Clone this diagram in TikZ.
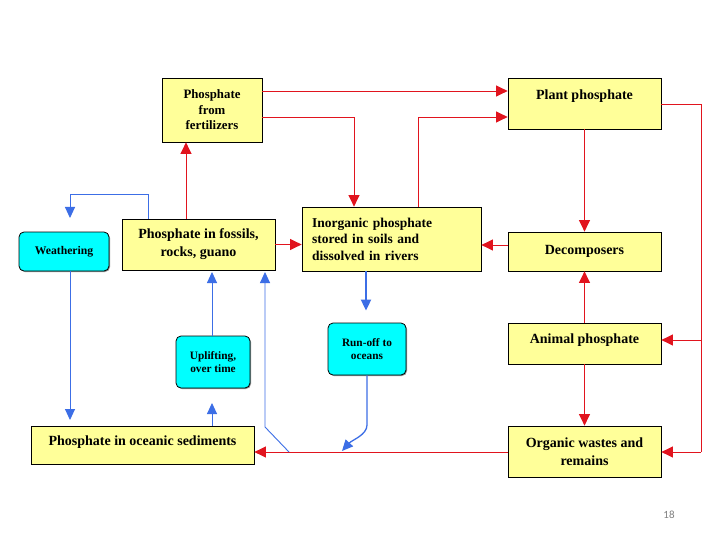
\documentclass[tikz,border=0pt]{standalone}
\usepackage{fontspec}
\setmainfont{Liberation Serif}
\newfontfamily\numfont{Carlito}
\usetikzlibrary{arrows.meta,shadows,calc}
\definecolor{boxyellow}{RGB}{255,255,153}
\definecolor{boxcyan}{RGB}{0,255,255}
\definecolor{linered}{RGB}{225,20,30}
\definecolor{lineblue}{RGB}{60,110,230}
\begin{document}
\begin{tikzpicture}[x=1pt,y=-1pt,
  ybox/.style={draw=black, line width=0.8pt, fill=boxyellow,
    drop shadow={shadow xshift=1.2pt,shadow yshift=-1.2pt,opacity=0.8,fill=black!70},
    font=\bfseries\fontsize{14}{18}\selectfont, align=center, inner sep=2pt},
  cbox/.style={draw=black, line width=0.8pt, fill=boxcyan, rounded corners=5pt,
    drop shadow={shadow xshift=1pt,shadow yshift=-1pt,opacity=0.6,fill=black!70},
    font=\bfseries\fontsize{11.3}{13.5}\selectfont, align=center, inner sep=2pt},
  rarr/.style={draw=linered, line width=0.9pt, -{Triangle[width=11pt,length=11.5pt]}},
  rline/.style={draw=linered, line width=0.9pt},
  barr/.style={draw=lineblue, line width=0.9pt, -{Triangle[width=10pt,length=11pt]}},
  bline/.style={draw=lineblue, line width=0.9pt}]
\useasboundingbox[fill=white] (0,0) rectangle (720,540);

% yellow boxes
\node[ybox, minimum width=100pt, minimum height=64pt, font=\bfseries\fontsize{12.8}{15.5}\selectfont] (fert) at (212,110) {Phosphate\\from\\fertilizers};
\node[ybox, minimum width=153pt, minimum height=51pt, text height=9pt, text depth=17pt] (plant) at (584.5,103.5) {Plant phosphate};
\node[ybox, minimum width=153pt, minimum height=51pt] (fossils) at (198.5,244.5) {Phosphate in fossils,\\rocks, guano};
\node[ybox, minimum width=179pt, minimum height=64pt, text width=159pt, align=left, font=\bfseries\fontsize{13.5}{16.5}\selectfont] (inorg) at (391.5,239) {Inorganic phosphate\\stored in soils and\\dissolved in rivers};
\node[ybox, minimum width=153pt, minimum height=39pt] (decomp) at (584.5,251.5) {Decomposers};
\node[ybox, minimum width=153pt, minimum height=41pt, text height=9pt, text depth=9pt] (animal) at (584.5,343.5) {Animal phosphate};
\node[ybox, minimum width=223pt, minimum height=38pt, text height=9pt, text depth=9pt] (ocean) at (142.5,445) {Phosphate in oceanic sediments};
\node[ybox, minimum width=153pt, minimum height=51pt] (organic) at (584.5,451.5) {Organic wastes and\\remains};

% cyan boxes
\node[cbox, minimum width=90pt, minimum height=39pt, font=\bfseries\fontsize{11.7}{14}\selectfont] (weather) at (64,251.5) {Weathering};
\node[cbox, minimum width=74pt, minimum height=52pt] (uplift) at (213,362) {Uplifting,\\over time};
\node[cbox, minimum width=78pt, minimum height=52pt] (runoff) at (367,349) {Run-off to\\oceans};

% red connectors
\draw[rarr] (fert.east |- 0,91) -- (plant.west |- 0,91);
\draw[rarr] (fert.east |- 0,117) -| (354,0 |- inorg.north);
\draw[rarr] (418,0 |- inorg.north) |- (plant.west |- 0,117);
\coordinate (rc1) at (701,104);
\coordinate (rc2) at (701,340);
\coordinate (rc3) at (701,452);
\draw[rline] (plant.east |- rc1) -- (rc1) -- (rc3);
\draw[rarr] (rc2) -- (animal.east |- rc2);
\draw[rarr] (rc3) -- (organic.east |- rc3);
\draw[rarr] (plant.south) -- (decomp.north);
\draw[rarr] (animal.north) -- (decomp.south);
\draw[rarr] (animal.south) -- (organic.north);
\draw[rarr] (decomp.west |- 0,245) -- (inorg.east |- 0,245);
\draw[rarr] (fossils.east) -- (inorg.west |- fossils.east);
\draw[rarr] (186,0 |- fossils.north) -- (186,0 |- fert.south);
\draw[rarr] (organic.west |- 0,452) -- (ocean.east |- 0,452);

% blue connectors
\coordinate (wtip) at (70,218);
\draw[barr] (148,0 |- fossils.north) |- (70,194) -- (wtip);
\draw[barr] (70,0 |- weather.south) -- (70,420);
\draw[barr] (212,0 |- ocean.north) -- (212,403);
\draw[barr] (212,0 |- uplift.north) -- (212,272);
\coordinate (lj) at (289,452);
\draw[barr] (lj) -- (265,427) -- (265,272);
\draw[draw=lineblue, line width=1.8pt, -{Triangle[width=10pt,length=11pt]}, shorten >=12pt] (366,0 |- inorg.south) -- (366,0 |- runoff.north);
\coordinate (rtip) at (342,451);
\draw[barr, line width=1.3pt] (367,0 |- runoff.south) -- (367,425) .. controls (367,435) and (352,440) .. (rtip);

% page number
\node[font=\numfont\fontsize{11}{13}\selectfont, text=gray] (pg) at (669,515) {18};
\end{tikzpicture}
\end{document}
